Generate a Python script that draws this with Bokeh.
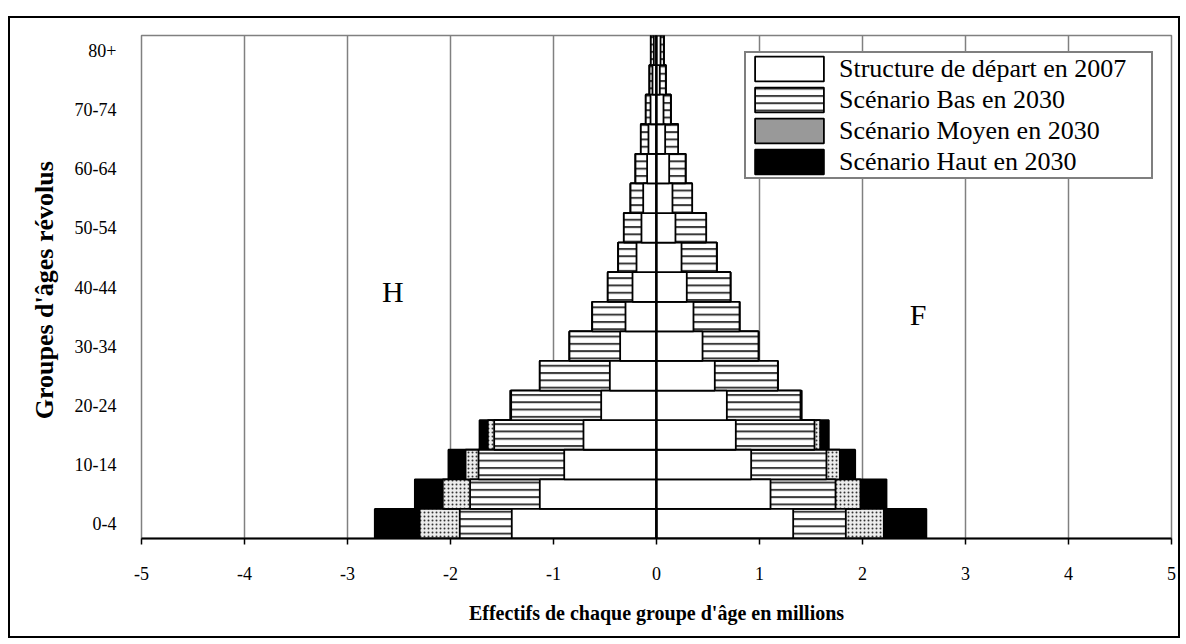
from bokeh.plotting import figure
from bokeh.models import Range1d, FixedTicker, Span, Label, Legend, LegendItem
from bokeh.embed import file_html
from bokeh.resources import INLINE

# ---------------- data (millions) ----------------
ages = ["0-4", "5-9", "10-14", "15-19", "20-24", "25-29", "30-34", "35-39", "40-44",
        "45-49", "50-54", "55-59", "60-64", "65-69", "70-74", "75-79", "80+"]

male_2007  = [1.405, 1.133, 0.896, 0.709, 0.537, 0.453, 0.353, 0.301, 0.233,
              0.194, 0.146, 0.129, 0.091, 0.078, 0.058, 0.039, 0.026]
male_bas   = [1.910, 1.810, 1.728, 1.576, 1.411, 1.133, 0.845, 0.624, 0.473,
              0.372, 0.317, 0.252, 0.204, 0.152, 0.104, 0.068, 0.055]
male_moyen = [2.300, 2.075, 1.854, 1.638, 1.415, 1.133, 0.845, 0.624, 0.473,
              0.372, 0.317, 0.252, 0.204, 0.152, 0.104, 0.068, 0.055]
male_haut  = [2.735, 2.346, 2.020, 1.718, 1.420, 1.133, 0.845, 0.624, 0.473,
              0.372, 0.317, 0.252, 0.204, 0.152, 0.104, 0.068, 0.055]

female_2007  = [1.327, 1.107, 0.919, 0.770, 0.683, 0.566, 0.447, 0.359, 0.294,
                0.243, 0.184, 0.155, 0.123, 0.084, 0.068, 0.032, 0.039]
female_bas   = [1.838, 1.738, 1.650, 1.534, 1.398, 1.178, 0.990, 0.806, 0.718,
                0.585, 0.482, 0.346, 0.282, 0.210, 0.139, 0.090, 0.071]
female_moyen = [2.207, 1.980, 1.780, 1.589, 1.402, 1.178, 0.990, 0.806, 0.718,
                0.585, 0.482, 0.346, 0.282, 0.210, 0.139, 0.090, 0.071]
female_haut  = [2.620, 2.233, 1.929, 1.673, 1.410, 1.178, 0.990, 0.806, 0.718,
                0.585, 0.482, 0.346, 0.282, 0.210, 0.139, 0.090, 0.071]

x_ticks = [-5, -4, -3, -2, -1, 0, 1, 2, 3, 4, 5]
x_tick_labels = ["-5", "-4", "-3", "-2", "-1", "0", "1", "2", "3", "4", "5"]

series_labels = ["Structure de départ en 2007", "Scénario Bas en 2030",
                 "Scénario Moyen en 2030", "Scénario Haut en 2030"]

# ---------------- figure ----------------
SERIF = "Liberation Serif"
pos = list(range(len(ages)))

p = figure(width=1172, height=622,
           x_range=Range1d(-5, 5), y_range=Range1d(-0.5, len(ages) - 0.5),
           output_backend="svg", toolbar_location=None,
           min_border_left=131, min_border_right=11,
           min_border_top=17, min_border_bottom=102)
p.styles = {"border": "2px solid black", "margin-top": "16px", "margin-left": "8px"}

p.outline_line_color = "#808080"
p.outline_line_width = 1.5
p.background_fill_color = "white"
p.border_fill_color = "white"

p.xgrid.grid_line_color = "#808080"
p.xgrid.grid_line_width = 1.5
p.ygrid.grid_line_color = None

p.xaxis.ticker = FixedTicker(ticks=x_ticks)
p.xaxis.major_label_overrides = {t: l for t, l in zip(x_ticks, x_tick_labels)}
p.xaxis.axis_line_color = "black"
p.xaxis.axis_line_width = 2
p.xaxis.major_tick_line_color = "black"
p.xaxis.major_tick_line_width = 1.5
p.xaxis.major_tick_out = 6
p.xaxis.major_tick_in = 0
p.xaxis.minor_tick_line_color = None
p.xaxis.major_label_text_font = SERIF
p.xaxis.major_label_text_font_size = "18px"
p.xaxis.major_label_text_color = "black"
p.xaxis.major_label_standoff = 22
p.xaxis.axis_label = "Effectifs de chaque groupe d'âge en millions"
p.xaxis.axis_label_text_font = SERIF
p.xaxis.axis_label_text_font_size = "20px"
p.xaxis.axis_label_text_font_style = "bold"
p.xaxis.axis_label_text_color = "black"
p.xaxis.axis_label_standoff = 19

y_ticks = pos[::2]
p.yaxis.ticker = FixedTicker(ticks=y_ticks)
p.yaxis.major_label_overrides = {i: ages[i] for i in y_ticks}
p.yaxis.axis_line_color = None
p.yaxis.major_tick_line_color = None
p.yaxis.minor_tick_line_color = None
p.yaxis.major_label_text_font = SERIF
p.yaxis.major_label_text_font_size = "18px"
p.yaxis.major_label_text_color = "black"
p.yaxis.major_label_standoff = 19
p.yaxis.axis_label = "Groupes d'âges  révolus"
p.yaxis.axis_label_text_font = SERIF
p.yaxis.axis_label_text_font_size = "26px"
p.yaxis.axis_label_text_font_style = "bold"
p.yaxis.axis_label_text_color = "black"
p.yaxis.axis_label_standoff = 13

LW = 1.8
styles = {
    "haut":  dict(fill_color="black"),
    "moyen": dict(fill_color="#ececec", hatch_pattern="dot", hatch_color="#333333",
                  hatch_scale=4, hatch_weight=1),
    "bas":   dict(fill_color="white", hatch_pattern="horizontal_line", hatch_color="#3a3a3a",
                  hatch_scale=7.3, hatch_weight=2),
    "2007":  dict(fill_color="white"),
}

def bars(vals, sign, key):
    xs = [sign * v for v in vals]
    return p.hbar(y=pos, left=0, right=xs, height=1.0, line_color="black",
                  line_width=LW, **styles[key])

for sign, d in ((-1, (male_haut, male_moyen, male_bas, male_2007)),
                (1, (female_haut, female_moyen, female_bas, female_2007))):
    r_h = bars(d[0], sign, "haut")
    r_m = bars(d[1], sign, "moyen")
    r_b = bars(d[2], sign, "bas")
    r_0 = bars(d[3], sign, "2007")

p.add_layout(Span(location=0, dimension="height", line_color="black", line_width=2))

# legend swatch for "Moyen" is a plain grey block in the original (zero-width bar)
r_leg_moyen = p.hbar(y=[pos[0]], left=[0], right=[0], height=1.0, fill_color="#999999",
                     line_color="black", line_width=LW)

legend = Legend(items=[
    LegendItem(label=series_labels[0], renderers=[r_0]),
    LegendItem(label=series_labels[1], renderers=[r_b]),
    LegendItem(label=series_labels[2], renderers=[r_leg_moyen]),
    LegendItem(label=series_labels[3], renderers=[r_h]),
], location=(603, 359))
legend.label_text_font = SERIF
legend.label_text_font_size = "26px"
legend.label_text_color = "black"
legend.label_standoff = 7
legend.label_width = 312
legend.glyph_width = 86
legend.glyph_height = 31
legend.label_height = 31
legend.spacing = 0
legend.padding = 0
legend.margin = 0
legend.border_line_color = "black"
legend.border_line_width = 2
legend.background_fill_color = "white"
legend.background_fill_alpha = 1.0
p.add_layout(legend)

p.add_layout(Label(x=-2.56, y=7.85, text="H", text_font=SERIF, text_font_size="30px",
                   text_align="center", text_baseline="middle", text_color="black"))
p.add_layout(Label(x=2.54, y=7.07, text="F", text_font=SERIF, text_font_size="30px",
                   text_align="center", text_baseline="middle", text_color="black"))

open("out.html", "w").write(file_html(p, INLINE))
